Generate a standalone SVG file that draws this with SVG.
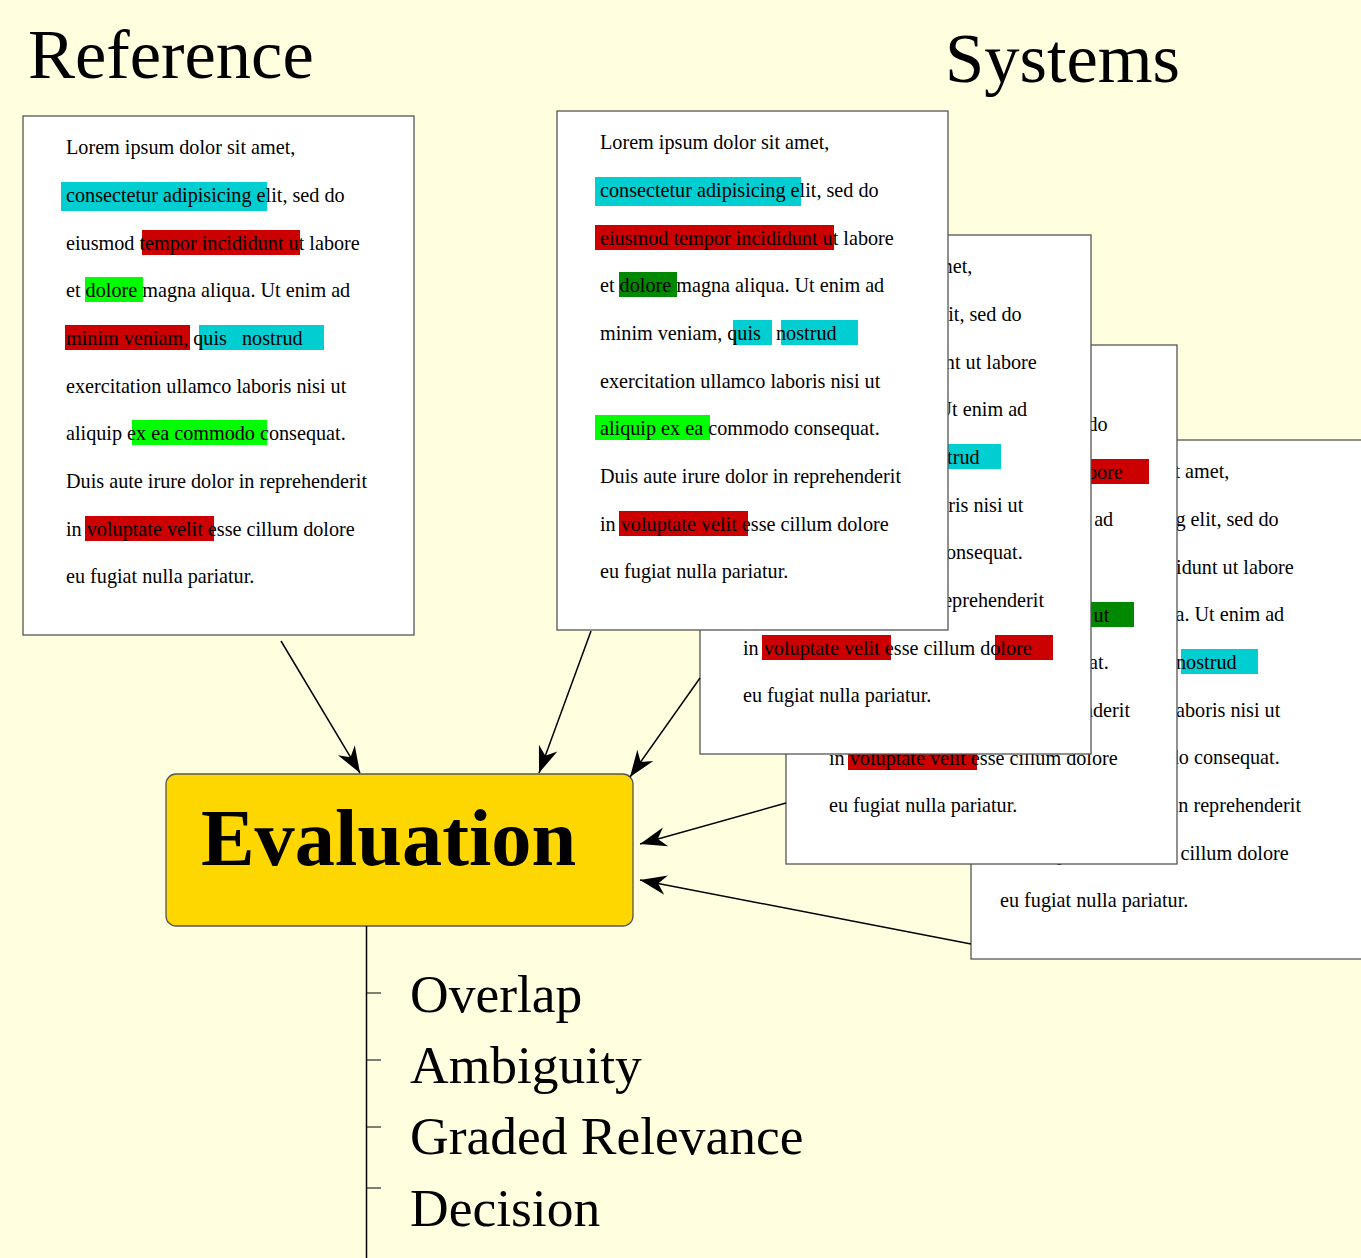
<svg xmlns="http://www.w3.org/2000/svg" width="1361" height="1258" viewBox="0 0 1361 1258">
<defs>
<style>
.bg{fill:#FFFFE0}
.pg{fill:#FFFFFF;stroke:#555555;stroke-width:1.3}
.t{font-family:"Liberation Serif","Times New Roman",serif;font-size:20.2px;fill:#000}
.r{fill:#CC0000}
.c{fill:#00CED1}
.g{fill:#00FF00}
.dg{fill:#008800}
.title{font-family:"Liberation Serif","Times New Roman",serif;font-size:70.5px;fill:#000}
.item{font-family:"Liberation Serif","Times New Roman",serif;font-size:53.5px;fill:#000}
.conn{stroke:#000;stroke-width:1.5;fill:none}
</style>
<marker id="arr" markerUnits="userSpaceOnUse" markerWidth="30" markerHeight="24" viewBox="-24 -10 26 20" refX="0" refY="0" orient="auto">
<path d="M0,0 L-23,-8.5 L-16,0 L-23,8.5 Z" fill="#000"/>
</marker>
</defs>
<rect class="bg" x="0" y="0" width="1361" height="1258"/>

<text class="title" x="28" y="78">Reference</text>
<text class="title" x="945" y="82">Systems</text>

<g id="page-reference" transform="translate(23,116)">
<rect class="pg" x="0" y="0" width="391" height="519"/>
<rect class="c" x="38" y="66" width="206" height="29"/>
<rect class="r" x="119" y="114" width="158" height="25"/>
<rect class="g" x="62" y="161" width="58" height="25"/>
<rect class="r" x="42" y="209" width="125" height="25"/>
<rect class="c" x="176" y="209" width="125" height="25"/>
<rect class="g" x="109" y="304" width="135" height="25"/>
<rect class="r" x="62" y="400" width="129" height="25"/>
<text class="t" x="43" y="38">Lorem ipsum dolor sit amet,</text>
<text class="t" x="43" y="86">consectetur adipisicing elit, sed do</text>
<text class="t" x="43" y="134">eiusmod tempor incididunt ut labore</text>
<text class="t" x="43" y="181">et dolore magna aliqua. Ut enim ad</text>
<text class="t" x="43" y="229">minim veniam, quis<tspan x="219">nostrud</tspan></text>
<text class="t" x="43" y="277">exercitation ullamco laboris nisi ut</text>
<text class="t" x="43" y="324">aliquip ex ea commodo consequat.</text>
<text class="t" x="43" y="372">Duis aute irure dolor in reprehenderit</text>
<text class="t" x="43" y="420">in voluptate velit esse cillum dolore</text>
<text class="t" x="43" y="467">eu fugiat nulla pariatur.</text>
</g>

<g id="page-system-4" transform="translate(971,440)">
<rect class="pg" x="0" y="0" width="391" height="519"/>
<rect class="c" x="210" y="209" width="77" height="25"/>
<text class="t" x="29" y="38">Lorem ipsum dolor sit amet,</text>
<text class="t" x="29" y="86">consectetur adipisicing elit, sed do</text>
<text class="t" x="29" y="134">eiusmod tempor incididunt ut labore</text>
<text class="t" x="29" y="181">et dolore magna aliqua. Ut enim ad</text>
<text class="t" x="29" y="229">minim veniam, quis<tspan x="205">nostrud</tspan></text>
<text class="t" x="29" y="277">exercitation ullamco laboris nisi ut</text>
<text class="t" x="29" y="324">aliquip ex ea commodo consequat.</text>
<text class="t" x="29" y="372">Duis aute irure dolor in reprehenderit</text>
<text class="t" x="29" y="420">in voluptate velit esse cillum dolore</text>
<text class="t" x="29" y="467">eu fugiat nulla pariatur.</text>
</g>

<g id="page-system-3" transform="translate(786,345)">
<rect class="pg" x="0" y="0" width="391" height="519"/>
<rect class="r" x="119" y="114" width="244" height="25"/>
<rect class="dg" x="262" y="257" width="86" height="25"/>
<rect class="r" x="62" y="400" width="129" height="25"/>
<text class="t" x="43" y="38">Lorem ipsum dolor sit amet,</text>
<text class="t" x="43" y="86">consectetur adipisicing elit, sed do</text>
<text class="t" x="43" y="134">eiusmod tempor incididunt ut labore</text>
<text class="t" x="43" y="181">et dolore magna aliqua. Ut enim ad</text>
<text class="t" x="43" y="229">minim veniam, quis<tspan x="219">nostrud</tspan></text>
<text class="t" x="43" y="277">exercitation ullamco laboris nisi ut</text>
<text class="t" x="43" y="324">aliquip ex ea commodo consequat.</text>
<text class="t" x="43" y="372">Duis aute irure dolor in reprehenderit</text>
<text class="t" x="43" y="420">in voluptate velit esse cillum dolore</text>
<text class="t" x="43" y="467">eu fugiat nulla pariatur.</text>
</g>

<g id="page-system-2" transform="translate(700,235)">
<rect class="pg" x="0" y="0" width="391" height="519"/>
<rect class="c" x="224" y="209" width="77" height="25"/>
<rect class="r" x="62" y="400" width="129" height="25"/>
<rect class="r" x="295" y="400" width="58" height="25"/>
<text class="t" x="43" y="38">Lorem ipsum dolor sit amet,</text>
<text class="t" x="43" y="86">consectetur adipisicing elit, sed do</text>
<text class="t" x="43" y="134">eiusmod tempor incididunt ut labore</text>
<text class="t" x="43" y="181">et dolore magna aliqua. Ut enim ad</text>
<text class="t" x="43" y="229">minim veniam, quis<tspan x="219">nostrud</tspan></text>
<text class="t" x="43" y="277">exercitation ullamco laboris nisi ut</text>
<text class="t" x="43" y="324">aliquip ex ea commodo consequat.</text>
<text class="t" x="43" y="372">Duis aute irure dolor in reprehenderit</text>
<text class="t" x="43" y="420">in voluptate velit esse cillum dolore</text>
<text class="t" x="43" y="467">eu fugiat nulla pariatur.</text>
</g>

<g id="page-system-1" transform="translate(557,111)">
<rect class="pg" x="0" y="0" width="391" height="519"/>
<rect class="c" x="38" y="66" width="206" height="29"/>
<rect class="r" x="38" y="114" width="239" height="25"/>
<rect class="dg" x="62" y="161" width="58" height="25"/>
<rect class="c" x="176" y="209" width="39" height="25"/>
<rect class="c" x="224" y="209" width="77" height="25"/>
<rect class="g" x="38" y="304" width="115" height="25"/>
<rect class="r" x="62" y="400" width="129" height="25"/>
<text class="t" x="43" y="38">Lorem ipsum dolor sit amet,</text>
<text class="t" x="43" y="86">consectetur adipisicing elit, sed do</text>
<text class="t" x="43" y="134">eiusmod tempor incididunt ut labore</text>
<text class="t" x="43" y="181">et dolore magna aliqua. Ut enim ad</text>
<text class="t" x="43" y="229">minim veniam, quis<tspan x="219">nostrud</tspan></text>
<text class="t" x="43" y="277">exercitation ullamco laboris nisi ut</text>
<text class="t" x="43" y="324">aliquip ex ea commodo consequat.</text>
<text class="t" x="43" y="372">Duis aute irure dolor in reprehenderit</text>
<text class="t" x="43" y="420">in voluptate velit esse cillum dolore</text>
<text class="t" x="43" y="467">eu fugiat nulla pariatur.</text>
</g>

<g id="evaluation">
<rect x="166" y="774" width="467" height="152" rx="10" ry="10" fill="#FFD700" stroke="#555555" stroke-width="1.3"/>
<text x="201" y="865" font-family="'Liberation Serif','Times New Roman',serif" font-size="80.4" font-weight="bold" fill="#000">Evaluation</text>
</g>

<g id="criteria">
<line x1="366.5" y1="926" x2="366.5" y2="1258" stroke="#000" stroke-width="1.5"/>
<line x1="366" y1="993" x2="381" y2="993" stroke="#000" stroke-width="1"/>
<line x1="366" y1="1060" x2="381" y2="1060" stroke="#000" stroke-width="1"/>
<line x1="366" y1="1127" x2="381" y2="1127" stroke="#000" stroke-width="1"/>
<line x1="366" y1="1188" x2="381" y2="1188" stroke="#000" stroke-width="1"/>
<text class="item" x="410" y="1012">Overlap</text>
<text class="item" x="410" y="1083">Ambiguity</text>
<text class="item" x="410" y="1154">Graded Relevance</text>
<text class="item" x="410" y="1226">Decision</text>
</g>

<g id="connectors">
<line class="conn" x1="281" y1="641" x2="360" y2="773" marker-end="url(#arr)"/>
<line class="conn" x1="591" y1="631" x2="539" y2="773" marker-end="url(#arr)"/>
<line class="conn" x1="700" y1="678" x2="630" y2="777" marker-end="url(#arr)"/>
<line class="conn" x1="786" y1="803" x2="640" y2="844" marker-end="url(#arr)"/>
<line class="conn" x1="971" y1="944" x2="640" y2="880" marker-end="url(#arr)"/>
</g>
</svg>
